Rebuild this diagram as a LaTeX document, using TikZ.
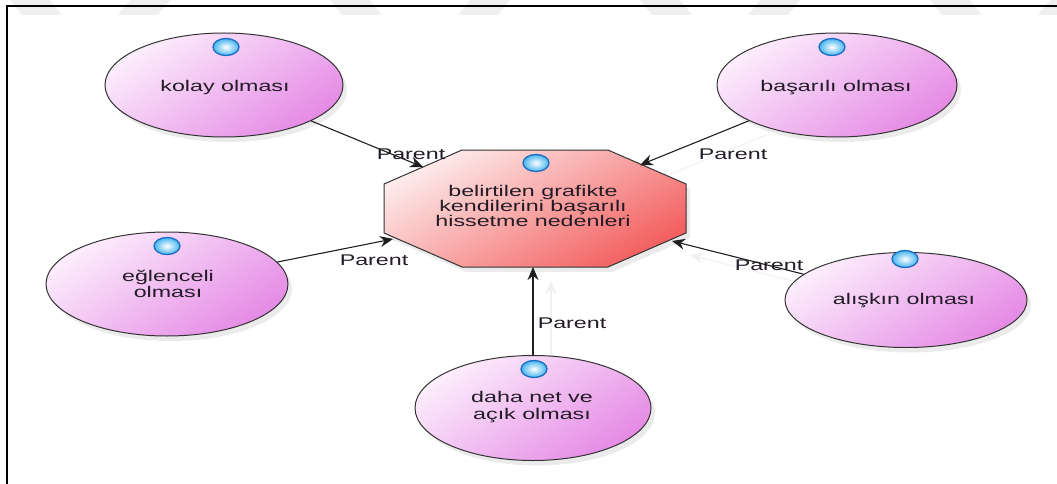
\documentclass[tikz,border=0pt]{standalone}
\usepackage{fontspec}
\setmainfont{Liberation Sans}[FakeStretch=1.5]
\usetikzlibrary{shapes.geometric,arrows.meta,shadows}
\definecolor{txt}{HTML}{231C27}
\definecolor{edgegray}{HTML}{333333}
\definecolor{pinklight}{HTML}{FCEEFC}
\definecolor{pinkmid}{HTML}{F3C8F3}
\definecolor{pinkdark}{HTML}{E58AE5}
\definecolor{redlight}{HTML}{FDEAEA}
\definecolor{redmid}{HTML}{FBCDCD}
\definecolor{reddark}{HTML}{F36060}
\definecolor{dotedge}{HTML}{1A6CC2}
\definecolor{dotfill}{HTML}{45B4F0}
\definecolor{markgray}{HTML}{EFEFEF}
\pgfdeclarelayer{bg}
\pgfsetlayers{bg,main}
\begin{document}
\begin{tikzpicture}[x=1pt,y=-1pt,
  font=\fontsize{15.5}{16.5}\selectfont,
  topic/.style={ellipse, draw=edgegray, line width=1pt, inner sep=0pt,
    top color=pinklight, middle color=pinkmid, bottom color=pinkdark, shading angle=35,
    drop shadow={opacity=0.16, shadow xshift=4pt, shadow yshift=-5pt}},
  bead/.style={ellipse, draw=dotedge, line width=1.3pt, inner sep=0pt,
    minimum width=26pt, minimum height=17pt,
    inner color=white, outer color=dotfill},
  lbl/.style={inner sep=0pt, text=txt},
  conn/.style={line width=1.1pt, draw=black!88,
    -{Stealth[length=13pt,width=11pt]}},
  connshadow/.style={line width=1.1pt, draw=black!6,
    -{Stealth[length=13pt,width=11pt]}},
  band/.style={fill=markgray}
]
\useasboundingbox (0,0) rectangle (1057,484);

% faint watermark bands along the top edge
\foreach \x in {10,330,640,930} {
  \fill[band] (\x,0) -- (\x+40,0) -- (\x+52,15) -- (\x+12,15) -- cycle;
}
\foreach \x in {130,470,760,1050} {
  \fill[band] (\x,0) -- (\x+40,0) -- (\x+28,15) -- (\x-12,15) -- cycle;
}

% page frame
\draw[line width=1.5pt] (7,484) -- (7,6) -- (1057,6);

% central octagon
\path[draw=edgegray, line width=1pt, top color=redlight, middle color=redmid,
  bottom color=reddark, shading angle=30,
  drop shadow={opacity=0.16, shadow xshift=4pt, shadow yshift=-5pt}]
  (462,150) -- (608,150) -- (686,184) -- (686,233) -- (608,267) -- (462,267)
  -- (384,233) -- (384,184) -- cycle;

% arrow tips on the octagon border
\coordinate (t1) at (423,167);
\coordinate (t2) at (640,165);
\coordinate (t3) at (393,239);
\coordinate (t4) at (672,241);
\coordinate (t5) at (533,267);

% surrounding topics
\node[topic, minimum width=238pt, minimum height=104pt] (kolay)    at (224,85)  {};
\node[topic, minimum width=240pt, minimum height=104pt] (basarili) at (837,85)  {};
\node[topic, minimum width=242pt, minimum height=104pt] (eglence)  at (167,284) {};
\node[topic, minimum width=242pt, minimum height=95pt]  (aliskin)  at (906,300) {};
\node[topic, minimum width=236pt, minimum height=105pt] (dahanet)  at (533,408) {};

% faint connector shadows near the hub
\begin{pgfonlayer}{bg}
\foreach \n/\t in {basarili/t2, aliskin/t4, dahanet/t5} {
  \draw[connshadow, transform canvas={shift={(18pt,-14pt)}}] (\n) -- (\t);
}
\end{pgfonlayer}

% connectors
\draw[conn] (kolay) -- (t1);
\draw[conn] (basarili) -- (t2);
\draw[conn] (eglence) -- (t3);
\draw[conn] (aliskin) -- (t4);
\draw[conn] (dahanet) -- (t5);

% beads
\node[bead] (b0) at (536,163) {};
\node[bead] (b1) at (226,47)  {};
\node[bead] (b2) at (832,47)  {};
\node[bead] (b3) at (167,246) {};
\node[bead] (b4) at (905,259) {};
\node[bead] (b5) at (534,369) {};

% texts
\node[lbl, align=center, font=\fontsize{15.5}{15}\selectfont] (hubtxt) at (533,205.6)
  {belirtilen grafikte\\kendilerini başarılı\\hissetme nedenleri};
\node[lbl, anchor=base] (kolaytxt) at (225,92) {kolay olması};
\node[lbl, anchor=base] (basarilitxt) at (836,92) {başarılı olması};
\node[lbl, align=center] (eglencetxt) at (168,283.7) {eğlenceli\\olması};
\node[lbl, anchor=base] (aliskintxt) at (904,304) {alışkın olması};
\node[lbl, align=center] (dahanettxt) at (532,407.2) {daha net ve\\açık olması};

% connector labels
\node[lbl, anchor=base] (p1) at (411,160) {Parent};
\node[lbl, anchor=base] (p2) at (733,160) {Parent};
\node[lbl, anchor=base] (p3) at (374,265) {Parent};
\node[lbl, anchor=base] (p4) at (769,270) {Parent};
\node[lbl, anchor=base] (p5) at (572,328) {Parent};
\end{tikzpicture}
\end{document}
